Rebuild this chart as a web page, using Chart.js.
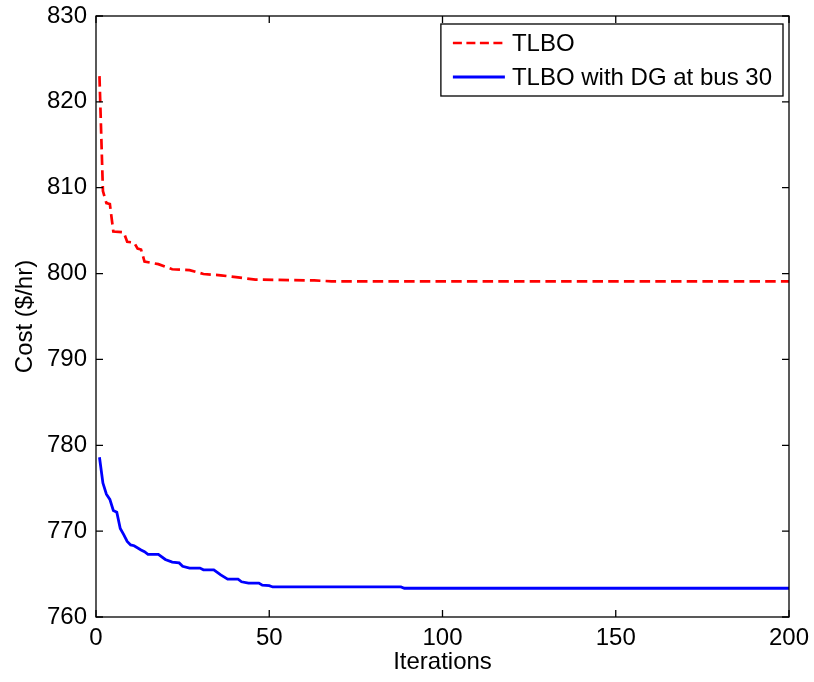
<!DOCTYPE html>
<html>
<head>
<meta charset="utf-8">
<script src="https://cdn.jsdelivr.net/npm/chart.js@4"></script>
<style>
  html, body { margin: 0; padding: 0; background: #fff; }
  #wrap { width: 814px; height: 682px; }
</style>
</head>
<body>
<div id="wrap"><canvas id="c" width="814" height="682"></canvas></div>
<script>
// ---- data ----
const seriesNames = ['TLBO', 'TLBO with DG at bus 30'];
const tlboIter = [1, 2, 3, 4, 5, 8, 9, 11, 12, 13, 14, 18, 22, 27, 31, 36, 41, 46, 63, 68, 200];
const tlboCost = [823.0, 809.6, 808.2, 808.1, 804.9, 804.8, 803.7, 803.6, 802.9, 802.8, 801.4, 801.1, 800.5, 800.4, 799.95, 799.8, 799.55, 799.3, 799.2, 799.1, 799.1];
const dgIter = [1, 2, 3, 4, 5, 6, 7, 8, 9, 10, 11, 13, 14, 15, 18, 20, 22, 24, 25, 27, 30, 31, 34, 36, 38, 41, 42, 44, 47, 48, 50, 51, 88, 89, 200];
const dgCost = [778.6, 775.6, 774.3, 773.7, 772.4, 772.2, 770.3, 769.6, 768.8, 768.4, 768.3, 767.8, 767.6, 767.3, 767.3, 766.7, 766.4, 766.3, 765.9, 765.7, 765.7, 765.5, 765.5, 764.9, 764.4, 764.4, 764.1, 763.95, 763.95, 763.7, 763.65, 763.5, 763.5, 763.35, 763.35];
const xTicks = [0, 50, 100, 150, 200];
const yTicks = [760, 770, 780, 790, 800, 810, 820, 830];
const xTitle = 'Iterations';
const yTitle = 'Cost ($/hr)';

const FONT = 'Liberation Sans, Arial, Helvetica, sans-serif';
const FS = 24;

const toPts = (xs, ys) => xs.map((x, i) => ({ x: x, y: ys[i] }));

const boxPlugin = {
  id: 'matlabBox',
  afterDraw(chart) {
    const ctx = chart.ctx;
    const a = chart.chartArea;
    const xs = chart.scales.x, ys = chart.scales.y;
    ctx.save();
    ctx.strokeStyle = '#000';
    ctx.lineWidth = 1.3;
    ctx.strokeRect(a.left, a.top, a.right - a.left, a.bottom - a.top);
    const tl = 7;
    ctx.beginPath();
    xs.ticks.forEach(t => {
      const px = xs.getPixelForValue(t.value);
      ctx.moveTo(px, a.bottom); ctx.lineTo(px, a.bottom - tl);
      ctx.moveTo(px, a.top); ctx.lineTo(px, a.top + tl);
    });
    ys.ticks.forEach(t => {
      const py = ys.getPixelForValue(t.value);
      ctx.moveTo(a.left, py); ctx.lineTo(a.left + tl, py);
      ctx.moveTo(a.right, py); ctx.lineTo(a.right - tl, py);
    });
    ctx.stroke();

    // legend
    ctx.font = FS + 'px ' + FONT;
    const ds = chart.data.datasets;
    const textW = Math.max(...ds.map(d => ctx.measureText(d.label).width));
    const lineLen = 52;
    const boxRight = a.right - 6;
    const boxTop = a.top + 8;
    const boxW = 12 + lineLen + 7 + textW + 11;
    const boxH = 72;
    const boxLeft = boxRight - boxW;
    ctx.fillStyle = '#fff';
    ctx.fillRect(boxLeft, boxTop, boxW, boxH);
    ctx.lineWidth = 1.3;
    ctx.strokeStyle = '#000';
    ctx.strokeRect(boxLeft, boxTop, boxW, boxH);
    ds.forEach((d, i) => {
      const cy = boxTop + 19 + i * 34;
      ctx.beginPath();
      ctx.strokeStyle = d.borderColor;
      ctx.lineWidth = d.borderWidth;
      ctx.setLineDash(i === 0 ? [9, 4.5] : []);
      ctx.moveTo(boxLeft + 12, cy);
      ctx.lineTo(boxLeft + 12 + lineLen, cy);
      ctx.stroke();
      ctx.setLineDash([]);
      ctx.fillStyle = '#000';
      ctx.textBaseline = 'middle';
      ctx.textAlign = 'left';
      ctx.fillText(d.label, boxLeft + 12 + lineLen + 7, cy + 1);
    });
    ctx.restore();
  }
};

new Chart(document.getElementById('c'), {
  type: 'line',
  data: {
    datasets: [
      { label: seriesNames[0], data: toPts(tlboIter, tlboCost), borderColor: '#ff0000', borderWidth: 2.7, borderDash: [10.5, 5.2], pointRadius: 0, fill: false, tension: 0 },
      { label: seriesNames[1], data: toPts(dgIter, dgCost), borderColor: '#0000ff', borderWidth: 2.8, pointRadius: 0, fill: false, tension: 0 }
    ]
  },
  options: {
    responsive: false,
    animation: false,
    events: [],
    layout: { padding: { top: 16, right: 25, left: 0, bottom: 0 } },
    plugins: { legend: { display: false }, tooltip: { enabled: false } },
    scales: {
      x: {
        type: 'linear', min: 0, max: 200,
        afterBuildTicks: s => { s.ticks = xTicks.map(v => ({ value: v })); },
        afterFit: s => { s.height = 65; s.paddingLeft = 0; s.paddingRight = 0; },
        grid: { display: false, drawTicks: false },
        border: { display: false },
        ticks: { color: '#000', padding: 7, maxRotation: 0, font: { family: FONT, size: FS } },
        title: { display: true, text: xTitle, color: '#000', padding: { top: 0, bottom: 5 }, font: { family: FONT, size: FS, lineHeight: 1.2 } }
      },
      y: {
        type: 'linear', min: 760, max: 830,
        afterBuildTicks: s => { s.ticks = yTicks.map(v => ({ value: v })); },
        afterFit: s => { s.width = 96; s.paddingTop = 0; s.paddingBottom = 0; },
        grid: { display: false, drawTicks: false },
        border: { display: false },
        ticks: { color: '#000', padding: 9, font: { family: FONT, size: FS } },
        title: { display: true, text: yTitle, color: '#000', padding: { top: 11, bottom: 0 }, font: { family: FONT, size: FS, lineHeight: 1.2 } }
      }
    }
  },
  plugins: [boxPlugin]
});
</script>
</body>
</html>
